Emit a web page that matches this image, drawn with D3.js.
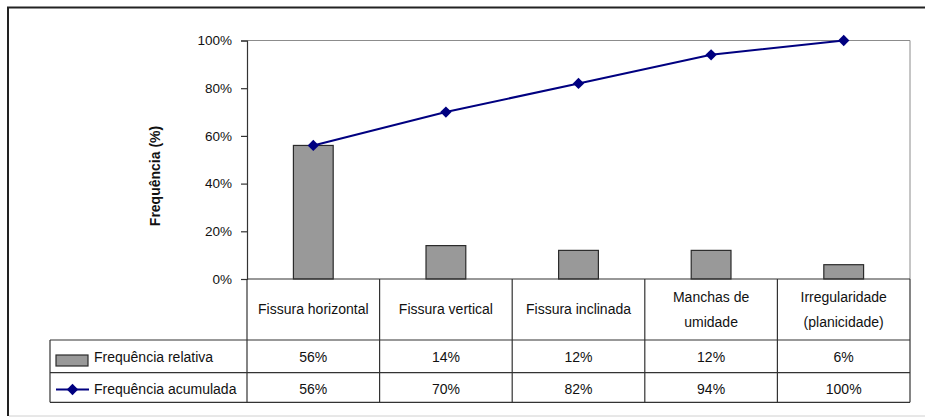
<!DOCTYPE html>
<html>
<head>
<meta charset="utf-8">
<script src="https://cdn.jsdelivr.net/npm/d3@7"></script>
<style>
  html, body { margin: 0; padding: 0; background: #fff; }
  svg { display: block; font-family: "Liberation Sans", Arial, sans-serif; }
</style>
</head>
<body>
<svg id="chart" width="925" height="417"></svg>
<script>
// Pathologies found in the survey: relative and cumulative frequency
const categories = ["Fissura horizontal", "Fissura vertical", "Fissura inclinada", "Manchas de\numidade", "Irregularidade\n(planicidade)"];
const relativeFreq = [0.56, 0.14, 0.12, 0.12, 0.06];
const cumulativeFreq = [0.56, 0.70, 0.82, 0.94, 1.00];
const yTicks = [0, 0.2, 0.4, 0.6, 0.8, 1.0];
const seriesNames = ["Frequência relativa", "Frequência acumulada"];
const yTitle = "Frequência (%)";

const svg = d3.select("#chart");
const pct = d3.format(".0%");

// layout
const plot = { left: 247, right: 910, top: 40.5, bottom: 279 };
const table = { left: 50, header: 340, row1: 372.7, row2: 402.3 };
const barColor = "#999999";
const lineColor = "#000080";
const gridStroke = "#333333";

// outer frame
svg.append("line").attr("x1", 8).attr("x2", 8).attr("y1", 7).attr("y2", 416)
  .attr("stroke", "#222").attr("stroke-width", 2);
svg.append("line").attr("x1", 7).attr("x2", 925).attr("y1", 7.5).attr("y2", 7.5)
  .attr("stroke", "#222").attr("stroke-width", 2);
svg.append("line").attr("x1", 9).attr("x2", 925).attr("y1", 416).attr("y2", 416)
  .attr("stroke", "#d0d0d0").attr("stroke-width", 1);

const x = d3.scaleBand().domain(categories).range([plot.left, plot.right]).padding(0);
const y = d3.scaleLinear().domain([0, 1]).range([plot.bottom, plot.top]);
const bw = x.bandwidth();
const cx = c => x(c) + bw / 2;

// plot area border (top and right)
svg.append("path")
  .attr("d", `M${plot.left},${plot.top}H${plot.right}V${plot.bottom}`)
  .attr("fill", "none").attr("stroke", "#8c8c8c").attr("stroke-width", 1);

// y axis
const yAxis = svg.append("g")
  .attr("transform", `translate(${plot.left},0)`)
  .call(d3.axisLeft(y).tickValues(yTicks).tickFormat(pct).tickSize(6).tickPadding(9));
yAxis.select(".domain").attr("stroke", gridStroke).attr("stroke-width", 1.2);
yAxis.selectAll(".tick line").attr("stroke", gridStroke).attr("stroke-width", 1.2);
yAxis.selectAll(".tick text")
  .attr("font-size", "13.5px").attr("fill", "#111")
  .attr("font-family", "'Liberation Sans', Arial, sans-serif");

// y title
svg.append("text")
  .attr("transform", "translate(160,176) rotate(-90)")
  .attr("text-anchor", "middle")
  .attr("font-size", "14px").attr("font-weight", "bold").attr("fill", "#111")
  .text(yTitle);

// bars
svg.append("g").selectAll("rect")
  .data(categories)
  .join("rect")
  .attr("x", c => x(c) + bw * 0.35)
  .attr("width", bw * 0.3)
  .attr("y", (c, i) => y(relativeFreq[i]))
  .attr("height", (c, i) => y(0) - y(relativeFreq[i]))
  .attr("fill", barColor).attr("stroke", "#2b2b2b").attr("stroke-width", 1.2);

// cumulative line
const line = d3.line().x((d, i) => cx(categories[i])).y(d => y(d));
svg.append("path")
  .datum(cumulativeFreq)
  .attr("d", line)
  .attr("fill", "none").attr("stroke", lineColor).attr("stroke-width", 2);

// diamond marker: a square turned 45 degrees
const diamond = d3.symbol().type(d3.symbolSquare).size(64);
svg.append("g").selectAll("path")
  .data(cumulativeFreq)
  .join("path")
  .attr("d", diamond)
  .attr("transform", (d, i) => `translate(${cx(categories[i])},${y(d)}) rotate(45)`)
  .attr("fill", lineColor);

// data table grid
const tg = svg.append("g").attr("stroke", gridStroke).attr("stroke-width", 1.2);
tg.append("line").attr("x1", plot.left).attr("x2", plot.right).attr("y1", plot.bottom).attr("y2", plot.bottom);
[table.header, table.row1, table.row2].forEach(yy => {
  tg.append("line").attr("x1", table.left).attr("x2", plot.right).attr("y1", yy).attr("y2", yy);
});
tg.append("line").attr("x1", table.left).attr("x2", table.left).attr("y1", table.header).attr("y2", table.row2);
categories.forEach(c => {
  tg.append("line").attr("x1", x(c)).attr("x2", x(c)).attr("y1", plot.bottom).attr("y2", table.row2);
});
tg.append("line").attr("x1", plot.right).attr("x2", plot.right).attr("y1", plot.bottom).attr("y2", table.row2);

// category headers
const headerMid = (plot.bottom + table.header) / 2;
svg.append("g").selectAll("text")
  .data(categories)
  .join("text")
  .attr("text-anchor", "middle")
  .attr("font-size", "14px").attr("fill", "#111")
  .each(function (c) {
    const lines = c.split("\n");
    const t = d3.select(this);
    lines.forEach((ln, k) => {
      t.append("tspan")
        .attr("x", cx(c))
        .attr("y", headerMid + (k - (lines.length - 1) / 2) * 25)
        .attr("dy", "0.35em")
        .text(ln);
    });
  });

// value rows
const rowMid1 = (table.header + table.row1) / 2 + 1;
const rowMid2 = (table.row1 + table.row2) / 2 + 2;
[[relativeFreq, rowMid1], [cumulativeFreq, rowMid2]].forEach(([vals, ym]) => {
  svg.append("g").selectAll("text")
    .data(vals)
    .join("text")
    .attr("x", (d, i) => cx(categories[i]))
    .attr("y", ym).attr("dy", "0.35em")
    .attr("text-anchor", "middle")
    .attr("font-size", "14px").attr("fill", "#111")
    .text(d => pct(d));
});

// legend keys inside the table
svg.append("rect")
  .attr("x", 56).attr("y", 355).attr("width", 32).attr("height", 11)
  .attr("fill", barColor).attr("stroke", "#2b2b2b").attr("stroke-width", 1.2);
svg.append("line")
  .attr("x1", 56).attr("x2", 89).attr("y1", rowMid2).attr("y2", rowMid2)
  .attr("stroke", lineColor).attr("stroke-width", 2);
svg.append("path")
  .attr("d", diamond)
  .attr("transform", `translate(72.5,${rowMid2}) rotate(45)`)
  .attr("fill", lineColor);
svg.append("g").selectAll("text")
  .data(seriesNames)
  .join("text")
  .attr("x", 94)
  .attr("y", (d, i) => i === 0 ? rowMid1 : rowMid2).attr("dy", "0.35em")
  .attr("font-size", "14px").attr("fill", "#111")
  .text(d => d);
</script>
</body>
</html>
